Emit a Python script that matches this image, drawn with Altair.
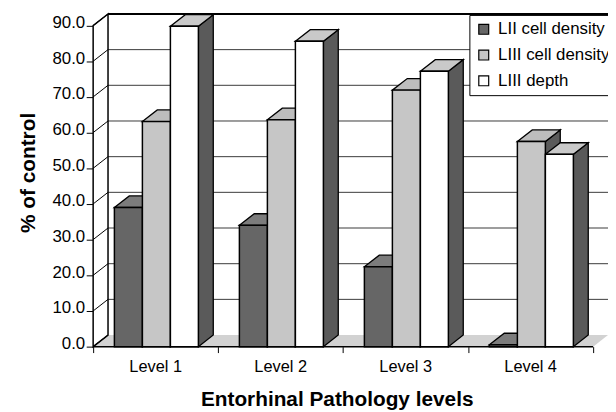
import altair as alt
import pandas as pd

# ---- data ----
levels = ["Level 1", "Level 2", "Level 3", "Level 4"]
series = ["LII cell density", "LIII cell density", "LIII depth"]
lii_cell_density = [39.0, 34.0, 22.4, 0.5]
liii_cell_density = [63.1, 63.6, 71.9, 57.5]
liii_depth = [89.8, 85.6, 77.2, 53.9]
y_ticks = [0, 10, 20, 30, 40, 50, 60, 70, 80, 90]

# ---- layout / style ----
Y_MAX = 90
DX = 0.119   # 3-D depth along x (in x units)
DY = 3.25    # 3-D depth along y (in y units)
OFF = 0.17   # gap before first bar in a category
BW = 0.224   # bar width (in x units)
N = len(levels)
FONT = "Liberation Sans"

front_fill = ["#666666", "#c6c6c6", "#ffffff"]
top_fill = ["#7c7c7c", "#bdbdbd", "#c9c9c9"]
side_fill = "#5a5a5a"
floor_fill = "#d2d2d2"

values = [lii_cell_density, liii_cell_density, liii_depth]
fronts, sides, tops = [], [], []
for i, lev in enumerate(levels):
    for j, s in enumerate(series):
        v = values[j][i]
        x0 = i + OFF + j * BW
        x1 = x0 + BW
        bid = f"{i}-{j}"
        fronts.append(dict(level=lev, series=s, x=x0, x2=x1, y=v, y2=0))
        sides += [dict(bid=bid, x=x1, y=v, y2=0),
                  dict(bid=bid, x=x1 + DX, y=v + DY, y2=DY)]
        tops += [dict(bid=bid, series=s, x=x0, y=v, y2=v),
                 dict(bid=bid, series=s, x=x0 + DX, y=v + DY, y2=v),
                 dict(bid=bid, series=s, x=x1, y=v + DY, y2=v),
                 dict(bid=bid, series=s, x=x1 + DX, y=v + DY, y2=v + DY)]
fronts = pd.DataFrame(fronts)
sides = pd.DataFrame(sides)
tops = pd.DataFrame(tops)

xs = alt.Scale(domain=[0, N + DX], nice=False, zero=False)
ys = alt.Scale(domain=[0, Y_MAX + DY], nice=False, zero=False)

x_axis = alt.Axis(
    values=list(range(N + 1)), labels=False, ticks=True, tickSize=6, tickColor="black",
    tickWidth=1, domain=False, grid=False, title="Entorhinal Pathology levels",
    titleFontSize=21, titleFontWeight="bold", titleX=246, titleY=59,
    titleBaseline="alphabetic", titleAlign="center")
y_axis = alt.Axis(
    values=y_ticks, format=".1f", domain=False, grid=False, tickSize=7,
    tickColor="black", tickWidth=1, labelFontSize=17, labelPadding=1.5, labelOffset=-3,
    title="% of control", titleFontSize=21, titleFontWeight="bold",
    titleX=-59, titleY=160, titleAngle=270, titleBaseline="alphabetic",
    titleAlign="center")

def X(f="x"):
    return alt.X(f, type="quantitative", scale=xs, axis=x_axis)

def Y(f="y"):
    return alt.Y(f, type="quantitative", scale=ys, axis=y_axis, stack=None)

# back wall grid lines
grid_df = pd.DataFrame({"k": y_ticks[1:]})
grid_df["x"] = DX
grid_df["x2"] = N + DX
grid_df["y"] = grid_df["k"] + DY
grid = alt.Chart(grid_df).mark_rule(color="#3a3a3a", strokeWidth=1).encode(
    x=X(), x2="x2", y=Y())

top_df = pd.DataFrame({"x": [DX], "x2": [N + DX], "y": [Y_MAX + DY]})
top_line = alt.Chart(top_df).mark_rule(color="black", strokeWidth=2).encode(
    x=X(), x2="x2", y=Y())

# floor
floor_df = pd.DataFrame({"x": [0, DX, N, N + DX], "y": [0, DY, DY, DY], "y2": [0, 0, 0, DY]})
floor = alt.Chart(floor_df).mark_area(fill=floor_fill, strokeWidth=0).encode(
    x=X(), y=Y(), y2="y2")

# left wall
lw_df = pd.DataFrame({"x": [0, DX], "y": [Y_MAX, Y_MAX + DY], "y2": [0, DY]})
left_wall = alt.Chart(lw_df).mark_area(fill="white", stroke="black", strokeWidth=1.5).encode(
    x=X(), y=Y(), y2="y2")

diag_df = pd.DataFrame({"y": y_ticks})
diag_df["x"] = 0.0
diag_df["x2"] = DX
diag_df["y2"] = diag_df["y"] + DY
diag = alt.Chart(diag_df).mark_rule(color="black", strokeWidth=1).encode(
    x=X(), x2="x2", y=Y(), y2="y2")

base_df = pd.DataFrame({"x": [0.0], "x2": [float(N)], "y": [0.0]})
baseline = alt.Chart(base_df).mark_rule(color="black", strokeWidth=1.5).encode(
    x=X(), x2="x2", y=Y())

# bar sides, tops, fronts
side_layer = alt.Chart(sides).mark_area(fill=side_fill, stroke="black", strokeWidth=1.3).encode(
    x=X(), y=Y(), y2="y2", detail="bid:N")

top_layer = alt.Chart(tops).mark_area(stroke="black", strokeWidth=1.3).encode(
    x=X(), y=Y(), y2="y2", detail="bid:N",
    color=alt.Color("series:N", scale=alt.Scale(domain=series, range=top_fill), legend=None))

front_layer = alt.Chart(fronts).mark_rect(stroke="black", strokeWidth=1.5).encode(
    x=X(), x2="x2", y=Y(), y2="y2",
    color=alt.Color("series:N", scale=alt.Scale(domain=series, range=front_fill),
                    legend=alt.Legend(title=None, orient="none", legendX=380, legendY=1)))

lab_df = pd.DataFrame({"level": levels})
lab_df["x"] = [i + 0.5 for i in range(N)]
lab_df["y"] = 0.0
labels = alt.Chart(lab_df).mark_text(dy=21, fontSize=16.5, font=FONT, color="black").encode(
    x=X(), y=Y(), text="level:N")

chart = alt.layer(
    grid, top_line, floor, left_wall, diag, baseline,
    side_layer, top_layer, front_layer, labels
).resolve_scale(color="independent").properties(
    width=520, height=336,
    autosize=alt.AutoSizeParams(type="none"),
    padding={"left": 86, "top": 4, "right": 0, "bottom": 64},
    background="white",
).configure_view(stroke=None).configure_axis(
    labelFont=FONT, titleFont=FONT, labelColor="black", titleColor="black"
).configure_legend(
    strokeColor="black", fillColor="white", padding=6, symbolType="square",
    symbolSize=100, symbolStrokeColor="black", symbolStrokeWidth=1.2,
    labelFont=FONT, labelFontSize=17, labelColor="black", rowPadding=8,
    labelOffset=6, cornerRadius=0
)

chart.save("out.html", embed_options={"renderer": "svg", "actions": False})
